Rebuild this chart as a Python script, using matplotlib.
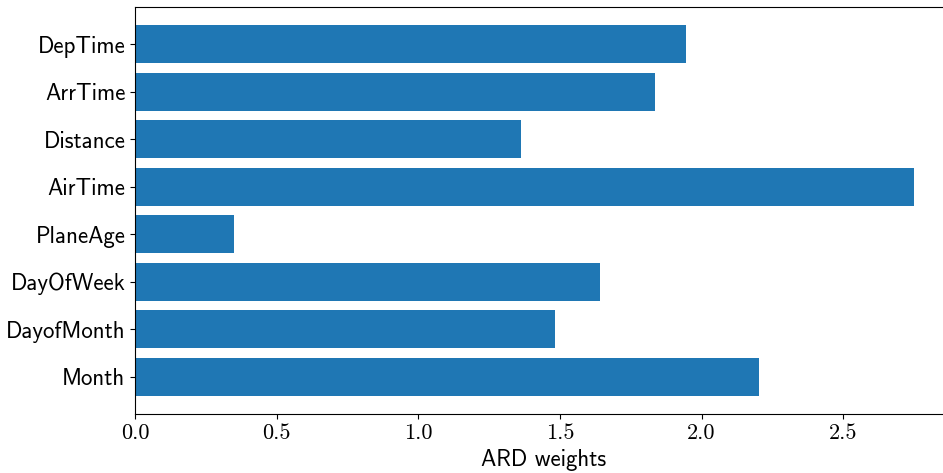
import matplotlib
matplotlib.use("Agg")
import matplotlib.pyplot as plt
import numpy as np

# ARD weights per feature (top to bottom as drawn)
features = ["Month", "DayofMonth", "DayOfWeek", "PlaneAge",
            "AirTime", "Distance", "ArrTime", "DepTime"]
weights = [2.204, 1.484, 1.640, 0.349, 2.750, 1.361, 1.834, 1.946]

fig = plt.figure(figsize=(9.43, 4.73), dpi=100)
# right part of the axes falls outside the canvas, like the cropped original
ax = fig.add_axes([135 / 943, 59 / 473, 818 / 943, 407 / 473])

pos = np.arange(len(features))
ax.barh(pos, weights, color="#1f77b4", height=0.8)
ax.set_yticks(pos)
ax.set_yticklabels(features, fontfamily="cmss10", fontsize=16.5)
ax.set_xticks([0.0, 0.5, 1.0, 1.5, 2.0, 2.5])
ax.set_xticklabels(["0.0", "0.5", "1.0", "1.5", "2.0", "2.5"],
                   fontfamily="cmr10", fontsize=16)
ax.set_xlabel("ARD weights", fontfamily="cmss10", fontsize=16.5, labelpad=4)

fig.savefig("out.png", dpi=100)
